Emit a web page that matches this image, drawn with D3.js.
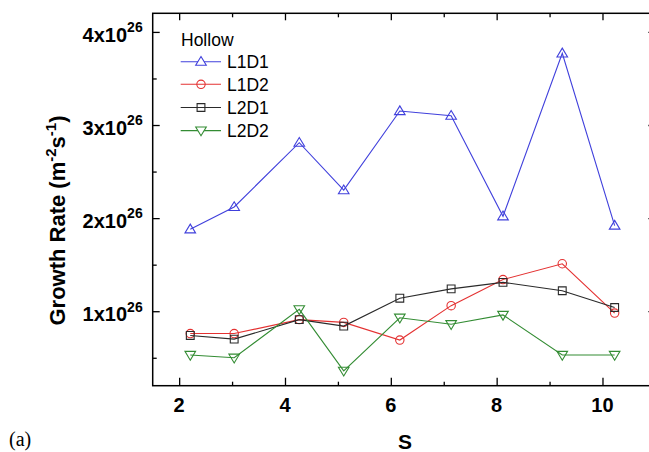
<!DOCTYPE html>
<html>
<head>
<meta charset="utf-8">
<script src="https://cdn.jsdelivr.net/npm/d3@7"></script>
<style>
  html, body { margin: 0; padding: 0; background: #fff; }
  svg { display: block; }
  svg text { font-family: "Liberation Sans", Arial, Helvetica, sans-serif; }
</style>
</head>
<body>
<svg id="chart" width="649" height="452"></svg>
<script>
// S values (shared by all series)
const sValues = [2.21, 3.04, 4.27, 5.11, 6.17, 7.14, 8.12, 9.24, 10.23];

// Growth rate, m^-2 s^-1
const L1D1 = [1.88e26, 2.12e26, 2.81e26, 2.30e26, 3.15e26, 3.10e26, 2.02e26, 3.77e26, 1.92e26];
const L1D2 = [0.76e26, 0.76e26, 0.91e26, 0.88e26, 0.69e26, 1.06e26, 1.34e26, 1.51e26, 0.98e26];
const L2D1 = [0.74e26, 0.70e26, 0.91e26, 0.84e26, 1.14e26, 1.24e26, 1.31e26, 1.22e26, 1.04e26];
const L2D2 = [0.53e26, 0.50e26, 1.02e26, 0.36e26, 0.93e26, 0.86e26, 0.96e26, 0.53e26, 0.53e26];

const seriesNames = ["L1D1", "L1D2", "L2D1", "L2D2"];
const seriesValues = [L1D1, L1D2, L2D1, L2D2];
const seriesColors = ["#4040dc", "#e43232", "#2a2a2a", "#338c33"];
const seriesSymbols = ["triUp", "circle", "square", "triDown"];

const xTicks = [2, 4, 6, 8, 10];
const xMinorTicks = [3, 5, 7, 9];
const yTicks = [1e26, 2e26, 3e26, 4e26];
const yMinorTicks = [0.5e26, 1.5e26, 2.5e26, 3.5e26];

const legendTitle = "Hollow";

const svg = d3.select("#chart");
const plot = { left: 152.7, right: 655.4, top: 13.3, bottom: 385.7 };

const x = d3.scaleLinear().domain([1.5, 11]).range([plot.left, plot.right]);
const y = d3.scaleLinear().domain([0.2e26, 4.2e26]).range([plot.bottom, plot.top]);

svg.append("rect").attr("width", 649).attr("height", 452).attr("fill", "#fff");

// Axes: ticks point inward on all four sides
const axisW = 1.5;
function styleAxis(g) {
  g.select(".domain").remove();
  g.selectAll(".tick line").attr("stroke", "#000").attr("stroke-width", 1.3);
  g.selectAll("text").remove();
}
svg.append("g").attr("transform", `translate(0,${plot.bottom})`)
  .call(d3.axisBottom(x).tickValues(xTicks).tickSize(-8)).call(styleAxis);
svg.append("g").attr("transform", `translate(0,${plot.bottom})`)
  .call(d3.axisBottom(x).tickValues(xMinorTicks).tickSize(-4)).call(styleAxis);
svg.append("g").attr("transform", `translate(0,${plot.top})`)
  .call(d3.axisTop(x).tickValues(xTicks).tickSize(-7)).call(styleAxis);
svg.append("g").attr("transform", `translate(0,${plot.top})`)
  .call(d3.axisTop(x).tickValues(xMinorTicks).tickSize(-4)).call(styleAxis);
svg.append("g").attr("transform", `translate(${plot.left},0)`)
  .call(d3.axisLeft(y).tickValues(yTicks).tickSize(-7)).call(styleAxis);
svg.append("g").attr("transform", `translate(${plot.left},0)`)
  .call(d3.axisLeft(y).tickValues(yMinorTicks).tickSize(-4)).call(styleAxis);
svg.append("g").attr("transform", `translate(${plot.right},0)`)
  .call(d3.axisRight(y).tickValues(yTicks).tickSize(-7)).call(styleAxis);
svg.append("g").attr("transform", `translate(${plot.right},0)`)
  .call(d3.axisRight(y).tickValues(yMinorTicks).tickSize(-4)).call(styleAxis);

svg.append("rect")
  .attr("x", plot.left).attr("y", plot.top)
  .attr("width", plot.right - plot.left).attr("height", plot.bottom - plot.top)
  .attr("fill", "none").attr("stroke", "#000").attr("stroke-width", axisW);

// X tick labels
svg.append("g").selectAll("text").data(xTicks).join("text")
  .attr("x", d => x(d)).attr("y", 411.5)
  .attr("text-anchor", "middle")
  .attr("font-size", 20).attr("font-weight", "bold")
  .text(d => d);

// Y tick labels as "Nx10^26"
const yLab = svg.append("g").selectAll("text").data(yTicks).join("text")
  .attr("x", plot.left - 10).attr("y", d => y(d) + 9.8)
  .attr("text-anchor", "end")
  .attr("font-size", 20).attr("font-weight", "bold");
yLab.append("tspan").text(d => (d / 1e26) + "x10");
yLab.append("tspan").attr("dy", -9.5).attr("font-size", 14).text("26");

// Axis titles
svg.append("text")
  .attr("x", 405).attr("y", 449)
  .attr("text-anchor", "middle")
  .attr("font-size", 21).attr("font-weight", "bold")
  .text("S");

const yTitle = svg.append("text")
  .attr("transform", "translate(65,220.5) rotate(-90)")
  .attr("text-anchor", "middle")
  .attr("font-size", 22).attr("font-weight", "bold");
yTitle.append("tspan").text("Growth Rate (m");
yTitle.append("tspan").attr("dy", -9).attr("font-size", 15).text("-2");
yTitle.append("tspan").attr("dy", 9).text("s");
yTitle.append("tspan").attr("dy", -9).attr("font-size", 15).text("-1");
yTitle.append("tspan").attr("dy", 9).text(")");

// Panel label
svg.append("text")
  .attr("x", 9).attr("y", 446)
  .style("font-family", "'Liberation Serif', 'DejaVu Serif', serif")
  .attr("font-size", 20)
  .text("(a)");

// Marker shapes
function symbolPath(kind) {
  switch (kind) {
    case "triUp": return "M0,-5.2L5.3,3.6L-5.3,3.6Z";
    case "triDown": return "M0,5.2L5.3,-3.6L-5.3,-3.6Z";
    case "square": return "M-3.9,-3.9H3.9V3.9H-3.9Z";
    default: return d3.symbol(d3.symbolCircle, Math.PI * 4.2 * 4.2)();
  }
}

// Series lines and markers
const line = d3.line().x(d => x(d[0])).y(d => y(d[1]));
seriesValues.forEach((vals, i) => {
  const pts = sValues.map((s, j) => [s, vals[j]]);
  const g = svg.append("g");
  g.append("path").datum(pts)
    .attr("d", line).attr("fill", "none")
    .attr("stroke", seriesColors[i]).attr("stroke-width", 1.1);
  g.selectAll("path.m").data(pts).join("path").attr("class", "m")
    .attr("transform", d => `translate(${x(d[0])},${y(d[1])})`)
    .attr("d", symbolPath(seriesSymbols[i]))
    .attr("fill", "none").attr("stroke", seriesColors[i]).attr("stroke-width", 1.1);
});

// Legend
svg.append("text")
  .attr("x", 181).attr("y", 46)
  .attr("font-size", 17.5)
  .text(legendTitle);
const rowY = [61.7, 84.3, 107.5, 130.6];
seriesNames.forEach((name, i) => {
  const g = svg.append("g").attr("transform", `translate(0,${rowY[i]})`);
  g.append("line").attr("x1", 180.7).attr("x2", 221).attr("y1", 0).attr("y2", 0)
    .attr("stroke", seriesColors[i]).attr("stroke-width", 1.1);
  g.append("path").attr("transform", "translate(201,0)")
    .attr("d", symbolPath(seriesSymbols[i]))
    .attr("fill", (seriesSymbols[i] === "triUp" || seriesSymbols[i] === "triDown") ? "#fff" : "none")
    .attr("stroke", seriesColors[i]).attr("stroke-width", 1.1);
  g.append("text").attr("x", 227).attr("y", 6.6)
    .attr("font-size", 17.5)
    .text(name);
});
</script>
</body>
</html>
